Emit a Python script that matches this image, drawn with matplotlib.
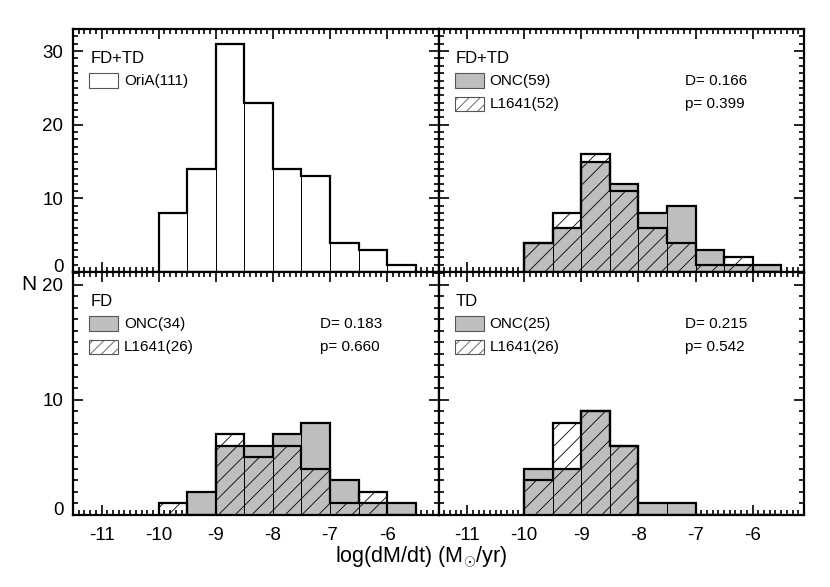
### Mass accretion rate histograms: OriA, ONC vs L1641

import numpy as np
import matplotlib.pyplot as plt
from matplotlib.patches import Rectangle
from matplotlib.ticker import MultipleLocator

plt.rcParams['font.family'] = ['Liberation Sans', 'DejaVu Sans']
plt.rcParams['mathtext.fontset'] = 'custom'
plt.rcParams['mathtext.rm'] = 'Liberation Sans'
plt.rcParams['hatch.linewidth'] = 0.6

### Data: counts per 0.5 dex bin of log(dM/dt)
edges = np.arange(-10.0, -5.0, 0.5)

oria_all = [8, 14, 31, 23, 14, 13, 4, 3, 1]
onc_all = [4, 6, 15, 12, 8, 9, 3, 1, 1]
l1641_all = [4, 8, 16, 11, 6, 4, 1, 2, 0]
onc_fd = [0, 2, 6, 6, 7, 8, 3, 1, 1]
l1641_fd = [1, 0, 7, 5, 6, 4, 1, 2, 0]
onc_td = [4, 4, 9, 6, 1, 1, 0, 0, 0]
l1641_td = [3, 8, 9, 6, 0, 0, 0, 0, 0]

titles = ['FD+TD', 'FD+TD', 'FD', 'TD']
onc_labels = ['ONC(59)', 'ONC(34)', 'ONC(25)']
l1641_labels = ['L1641(52)', 'L1641(26)', 'L1641(26)']
d_stats = ['D= 0.166', 'D= 0.183', 'D= 0.215']
p_stats = ['p= 0.399', 'p= 0.660', 'p= 0.542']

gray = '#bebebe'

fig, axes = plt.subplots(2, 2, figsize=(8.3, 5.87), dpi=100)
fig.subplots_adjust(left=0.088, right=0.9687, top=0.9506, bottom=0.1227,
                    wspace=0, hspace=0)

centers = edges[:-1] + 0.25
width = 0.5


def draw_hist(ax, counts, fill=None, hatch=None):
    ax.bar(centers, counts, width=width, color=fill if fill else 'none',
           edgecolor='k', linewidth=0.7, hatch=hatch, zorder=2)


def draw_outline(ax, counts):
    ax.stairs(counts, edges, color='k', linewidth=1.6, zorder=3)


def legend_row(ax, y, label, fill, hatch=None):
    ax.add_patch(Rectangle((0.044, y - 0.029), 0.08, 0.058, transform=ax.transAxes,
                           facecolor=fill, edgecolor='#555555', linewidth=0.8,
                           hatch=hatch, zorder=5))
    ax.text(0.14, y, label, transform=ax.transAxes, fontsize=11,
            va='center', ha='left')


### Top left: OriA
ax = axes[0, 0]
draw_hist(ax, oria_all, fill='white')
draw_outline(ax, oria_all)
legend_row(ax, 0.788, 'OriA(111)', 'white')

### ONC vs L1641 panels
pairs = [(axes[0, 1], onc_all, l1641_all),
         (axes[1, 0], onc_fd, l1641_fd),
         (axes[1, 1], onc_td, l1641_td)]
for k, (ax, onc, l1641) in enumerate(pairs):
    draw_hist(ax, onc, fill=gray)
    draw_hist(ax, l1641, hatch='//')
    draw_outline(ax, onc)
    draw_outline(ax, l1641)
    legend_row(ax, 0.788, onc_labels[k], gray)
    legend_row(ax, 0.691, l1641_labels[k], 'white', hatch='///')
    ax.text(0.675, 0.784, d_stats[k], transform=ax.transAxes, fontsize=11,
            va='center', ha='left')
    ax.text(0.675, 0.691, p_stats[k], transform=ax.transAxes, fontsize=11,
            va='center', ha='left')

for i, ax in enumerate(axes.flat):
    ax.text(0.047, 0.877, titles[i], transform=ax.transAxes, fontsize=12,
            va='center', ha='left')
    ax.set_xlim(-11.5, -5.1)
    ax.xaxis.set_major_locator(MultipleLocator(1))
    ax.xaxis.set_minor_locator(MultipleLocator(0.1))
    ax.yaxis.set_minor_locator(MultipleLocator(1))
    ax.tick_params(which='both', direction='in', top=True, right=True,
                   labelsize=13.5, width=1.2)
    ax.tick_params(which='major', length=7)
    ax.tick_params(which='minor', length=3.5)
    ax.tick_params(axis='x', pad=8.5)
    ax.tick_params(axis='y', pad=7)
    for s in ax.spines.values():
        s.set_linewidth(1.6)

for ax in axes[0]:
    ax.set_ylim(0, 33)
    ax.set_yticks([0, 10, 20, 30])
    ax.tick_params(labelbottom=False)
for ax in axes[1]:
    ax.set_ylim(0, 21.1)
    ax.set_yticks([0, 10, 20])
    ax.set_xticks(np.arange(-11, -5.5, 1))
    ax.set_xticklabels([str(v) for v in range(-11, -5)])
for ax in axes[:, 1]:
    ax.tick_params(labelleft=False)

### the zero labels sit just above their tick
for ax in axes[:, 0]:
    ax.yaxis.get_major_ticks()[0].label1.set_va('baseline')

fig.text(29 / 830, 1 - 285 / 587, 'N', fontsize=15, ha='center', va='center')
fig.text(421 / 830, 1 - 557 / 587, r'log(dM/dt) (M$_{\odot}$/yr)', fontsize=15.5,
         ha='center', va='center')

plt.savefig('out.png', dpi=100)
